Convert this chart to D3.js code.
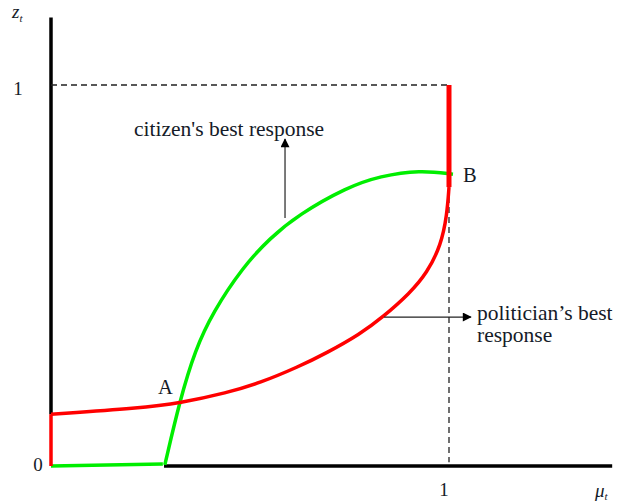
<!DOCTYPE html>
<meta charset="utf-8">
<head>
<style>
body { margin: 0; background: #fff; }
svg text { font-family: "Liberation Serif", "Times New Roman", serif; fill: #151b28; }
.axis-line { stroke: #000; stroke-width: 3.5px; }
.dash { fill: none; stroke: #222; stroke-width: 1.3px; stroke-dasharray: 6 4; }
.red { fill: none; stroke: #ff0000; stroke-width: 3.5px; }
.green { fill: none; stroke: #00ee00; stroke-width: 3.5px; }
.pointer { stroke: #222; stroke-width: 1.2px; }
</style>
</head>
<body>
<script src="https://d3js.org/d3.v7.min.js"></script>
<script>

// chart values (mu on x, z on y)
var politicianCurve = [
  [0, 0.136], [0.224, 0.152], [0.324, 0.165], [0.442, 0.192], [0.525, 0.218],
  [0.621, 0.260], [0.693, 0.297], [0.776, 0.346], [0.834, 0.391], [0.902, 0.454],
  [0.945, 0.507], [0.980, 0.580], [0.995, 0.659], [1.0, 0.732]
];
var politicianLow = [[0, 0], [0, 0.136]];
var politicianTop = [[1.0, 0.732], [1.0, 1.0]];

var citizenBase = [[0, 0], [0.281, 0.005]];
var citizenCurve = [
  [0.286, 0.003], [0.324, 0.173], [0.362, 0.304], [0.407, 0.404], [0.482, 0.522],
  [0.550, 0.598], [0.621, 0.659], [0.744, 0.732], [0.827, 0.761], [0.927, 0.777],
  [1.010, 0.766]
];

var yTickLabels = [{v: 1, t: "1"}, {v: 0, t: "0"}];
var xTickLabels = [{v: 1, t: "1"}];
var pointLabels = [{mu: 0.269, z: 0.189, t: "A"}, {mu: 1.035, z: 0.746, t: "B"}];

// arrows: citizen points up, politician points right
var citizenArrow = [[0.588, 0.651], [0.588, 0.858]];
var politicianArrow = [[0.837, 0.391], [1.055, 0.391]];

var width = 617, height = 502;

var x = d3.scaleLinear().domain([0, 1]).range([51, 449]);
var y = d3.scaleLinear().domain([0, 1]).range([466, 85]);

var svg = d3.select("body").append("svg")
    .attr("width", width)
    .attr("height", height);

// arrow marker
svg.append("defs").append("marker")
    .attr("id", "head")
    .attr("viewBox", "0 0 10 10")
    .attr("refX", 9).attr("refY", 5)
    .attr("markerWidth", 10).attr("markerHeight", 9)
    .attr("markerUnits", "userSpaceOnUse")
    .attr("orient", "auto")
  .append("path")
    .attr("d", "M0,0 L10,5 L0,10 z")
    .attr("fill", "#000");

// axes (plain lines)
svg.append("line").attr("class", "axis-line")
    .attr("x1", x(0)).attr("x2", x(0))
    .attr("y1", y(1.177)).attr("y2", y(0.136));
svg.append("line").attr("class", "axis-line")
    .attr("x1", x(0.284)).attr("x2", x(1.41))
    .attr("y1", y(0)).attr("y2", y(0));

var straight = d3.line().x(d => x(d[0])).y(d => y(d[1]));
var smooth = d3.line().curve(d3.curveBasis)
    .x(d => x(d[0])).y(d => y(d[1]));

// dashed guides to (1,1) and below B
svg.append("path").attr("class", "dash").attr("d", straight([[0, 1], [1, 1]]));
svg.append("path").attr("class", "dash").attr("d", straight([[1, 0.732], [1, 0.01]]));

// citizen's best response (green)
svg.append("path").attr("class", "green").attr("d", straight(citizenBase));
svg.append("path").attr("class", "green").attr("d", smooth(citizenCurve));

// politician's best response (red)
svg.append("path").attr("class", "red").attr("d", straight(politicianLow));
svg.append("path").attr("class", "red").attr("d", smooth(politicianCurve));
svg.append("path").attr("class", "red").style("stroke-width", "5px")
    .attr("d", straight(politicianTop));

// pointer arrows
[citizenArrow, politicianArrow].forEach(function(a) {
  svg.append("line").attr("class", "pointer")
      .attr("x1", x(a[0][0])).attr("y1", y(a[0][1]))
      .attr("x2", x(a[1][0])).attr("y2", y(a[1][1]))
      .attr("marker-end", "url(#head)");
});

// annotation text
svg.append("text").attr("x", 134).attr("y", 136)
    .attr("font-size", 21.5).text("citizen's best response");
svg.append("text").attr("x", 477).attr("y", 320)
    .attr("font-size", 21.5).text("politician\u2019s best");
svg.append("text").attr("x", 477).attr("y", 342)
    .attr("font-size", 21.5).text("response");

svg.selectAll(".pt").data(pointLabels).enter().append("text")
    .attr("class", "pt")
    .attr("x", d => x(d.mu)).attr("y", d => y(d.z))
    .attr("font-size", 20.5)
    .text(d => d.t);

// tick labels
svg.selectAll(".ytick").data(yTickLabels).enter().append("text")
    .attr("class", "ytick")
    .attr("x", d => d.v === 1 ? 18 : 38)
    .attr("y", d => y(d.v) + (d.v === 1 ? 10 : 5))
    .attr("text-anchor", "middle")
    .attr("font-size", 19)
    .text(d => d.t);
svg.selectAll(".xtick").data(xTickLabels).enter().append("text")
    .attr("class", "xtick")
    .attr("x", d => x(d.v) - 5)
    .attr("y", 496)
    .attr("text-anchor", "middle")
    .attr("font-size", 19)
    .text(d => d.t);

// axis titles
var zt = svg.append("text").attr("x", 12).attr("y", 18)
    .attr("font-size", 19).attr("font-style", "italic");
zt.append("tspan").text("z");
zt.append("tspan").attr("dy", 4).attr("font-size", 11).text("t");

var mt = svg.append("text").attr("x", 595).attr("y", 497)
    .attr("font-size", 19).attr("font-style", "italic");
mt.append("tspan").text("\u03bc");
mt.append("tspan").attr("dy", 3).attr("font-size", 11).text("t");

</script>
</body>
